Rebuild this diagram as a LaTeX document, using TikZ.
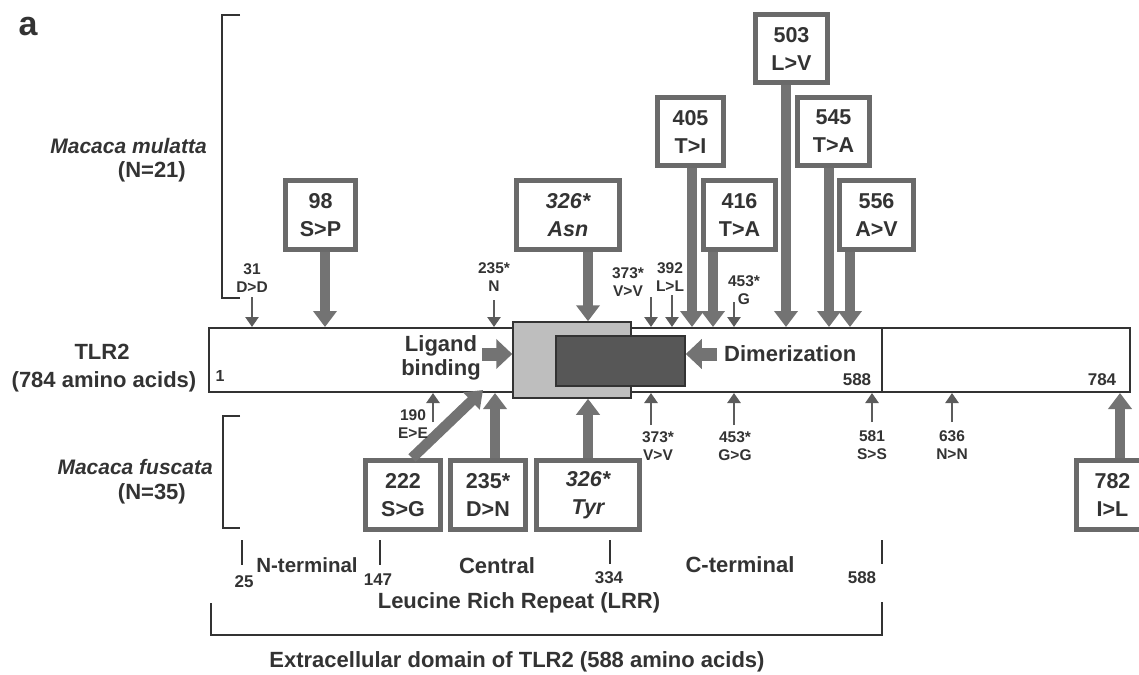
\documentclass[tikz,border=0pt]{standalone}
\usepackage{fontspec}
\setmainfont{Liberation Sans}
\usetikzlibrary{positioning,arrows.meta,calc}
\definecolor{ink}{HTML}{333333}
\definecolor{rim}{HTML}{6A6A6A}
\definecolor{shaft}{HTML}{737373}
\definecolor{lrr}{HTML}{BEBEBE}
\definecolor{dimer}{HTML}{575757}

\begin{document}
\begin{tikzpicture}[
    x=1pt, y=-1pt, text=ink,
    mutbox/.style={draw=rim, line width=5pt, fill=white, align=center,
                   inner sep=0pt, minimum height=69pt,
                   font=\bfseries\fontsize{21.5}{28}\selectfont},
    fat/.style={draw=shaft, line width=10.5pt, -{Triangle[length=16pt, width=23pt]}},
    snp/.style={draw=shaft!80!black, line width=2.8pt, -{Triangle[length=10pt, width=13pt]}},
    numtag/.style={font=\bfseries\fontsize{15.5}{18.5}\selectfont, align=center, inner sep=1pt},
    resnum/.style={font=\bfseries\fontsize{17}{20}\selectfont, inner sep=0pt},
    lab/.style={font=\bfseries\fontsize{22}{24}\selectfont, inner sep=0pt},
    species/.style={font=\bfseries\itshape\fontsize{21}{26}\selectfont, inner sep=0pt},
    domarrow/.style={draw=shaft, line width=13pt, -{Triangle[length=16pt, width=29pt]}},
    brk/.style={draw=ink, line width=2pt},
  ]
  \useasboundingbox (0,0) rectangle (1139,674);
  \clip (0,0) rectangle (1139,674);

  \node[font=\bfseries\fontsize{34}{34}\selectfont, inner sep=0pt] (panel) at (28,27) {a};

  % species brackets and names
  \draw[brk] (240,15) -- (222,15) -- (222,298) -- (240,298);
  \draw[brk] (240,416) -- (223,416) -- (223,528) -- (240,528);
  \node[species, anchor=east] (mul) at (207,146) {Macaca mulatta};
  \node[lab, anchor=east] (mulN) at (186,172) {(N=21)};
  \node[species, anchor=east] (fus) at (213,467) {Macaca fuscata};
  \node[lab, anchor=east] (fusN) at (186,494) {(N=35)};
  \node[lab] (tlrname) at (102,352) {TLR2};
  \node[lab] (tlrlen) at (104,382) {(784 amino acids)};

  % the protein bar
  \node[draw=ink, line width=2pt, minimum width=921pt, minimum height=64pt,
        inner sep=0pt] (tlr) at (669.5,360) {};
  \coordinate (d588) at (882,0);
  \draw[brk] (tlr.north -| d588) -- (tlr.south -| d588);
  \node[draw=ink, line width=1.5pt, fill=lrr, minimum width=118pt,
        minimum height=76pt, inner sep=0pt] (lrrbox) at (572,360) {};
  \node[draw=ink, line width=1.5pt, fill=dimer, minimum width=129pt,
        minimum height=50pt, inner sep=0pt] (dimbox) at (620.5,361) {};
  \node[font=\bfseries\fontsize{16}{18}\selectfont, inner sep=0pt] (r1) at (220,376) {1};
  \node[resnum] (r588) at (857,380) {588};
  \node[resnum] (r784) at (1102,380) {784};

  \node[lab, align=center] (lig) at (441,358) {Ligand\\binding};
  \node[lab, anchor=west] (dim) at (724,354) {Dimerization};
  \coordinate (ligtail) at (482,354);
  \draw[domarrow] (ligtail) -- (lrrbox.west |- ligtail);
  \draw[domarrow] ([xshift=-7pt]dim.west) -- (dimbox.east |- dim.west);

  % Macaca mulatta: non-synonymous changes
  \node[mutbox, minimum width=70pt] (m98) at (320.5,215) {98\\S>P};
  \node[mutbox, minimum width=103pt] (m326) at (568,215) {\itshape 326*\\\itshape Asn};
  \node[mutbox, minimum width=66pt, minimum height=68pt] (m405) at (690.5,131.5) {405\\T>I};
  \node[mutbox, minimum width=72pt, minimum height=68pt] (m503) at (791.5,48.5) {503\\L>V};
  \node[mutbox, minimum width=72pt, minimum height=68pt] (m545) at (833.5,131.5) {545\\T>A};
  \node[mutbox, minimum width=72pt] (m416) at (739.5,215) {416\\T>A};
  \node[mutbox, minimum width=74pt] (m556) at (876.5,215) {556\\A>V};
  \coordinate (x98) at (325,0);
  \coordinate (x326) at (588,0);
  \coordinate (x405) at (692,0);
  \coordinate (x416) at (713,0);
  \coordinate (x503) at (786,0);
  \coordinate (x545) at (829,0);
  \coordinate (x556) at (850,0);
  \draw[fat] (m98.south -| x98) -- (tlr.north -| x98);
  \draw[fat] (m326.south -| x326) -- (lrrbox.north -| x326);
  \draw[fat] (m405.south -| x405) -- (tlr.north -| x405);
  \draw[fat] (m416.south -| x416) -- (tlr.north -| x416);
  \draw[fat] (m503.south -| x503) -- (tlr.north -| x503);
  \draw[fat] (m545.south -| x545) -- (tlr.north -| x545);
  \draw[fat] (m556.south -| x556) -- (tlr.north -| x556);

  % Macaca mulatta: silent changes
  \node[numtag] (t31) at (252,278) {31\\D>D};
  \node[numtag] (t235) at (494,277) {235*\\N};
  \node[numtag] (t373) at (628,282) {373*\\V>V};
  \node[numtag] (t392) at (670,277) {392\\L>L};
  \node[numtag] (t453) at (744,290) {453*\\G};
  \coordinate (a31) at (252,297);
  \coordinate (a235) at (494,300);
  \coordinate (a373) at (651,297);
  \coordinate (a392) at (672,295);
  \coordinate (a453) at (734,302);
  \draw[snp] (a31) -- (a31 |- tlr.north);
  \draw[snp] (a235) -- (a235 |- tlr.north);
  \draw[snp] (a373) -- (a373 |- tlr.north);
  \draw[snp] (a392) -- (a392 |- tlr.north);
  \draw[snp] (a453) -- (a453 |- tlr.north);

  % Macaca fuscata: non-synonymous changes
  \node[mutbox, minimum width=75pt] (f222) at (403,495) {222\\S>G};
  \node[mutbox, minimum width=75pt] (f235) at (488,495) {235*\\D>N};
  \node[mutbox, minimum width=103pt] (f326) at (588,495) {\itshape 326*\\\itshape Tyr};
  \node[mutbox, minimum width=72pt] (f782) at (1112.5,495) {782\\I>L};
  \coordinate (s222) at (412,0);
  \coordinate (ligfoot) at (483,390);
  \coordinate (y235) at (495,0);
  \coordinate (y326) at (588,0);
  \coordinate (y782) at (1120,0);
  \draw[fat] (f222.north -| s222) -- (ligfoot);
  \draw[fat] (f235.north -| y235) -- (tlr.south -| y235);
  \draw[fat] (f326.north -| y326) -- (lrrbox.south -| y326);
  \draw[fat] (f782.north -| y782) -- (tlr.south -| y782);

  % Macaca fuscata: silent changes
  \node[numtag] (u190) at (413,424) {190\\E>E};
  \node[numtag] (u373) at (658,446) {373*\\V>V};
  \node[numtag] (u453) at (735,446) {453*\\G>G};
  \node[numtag] (u581) at (872,445) {581\\S>S};
  \node[numtag] (u636) at (952,445) {636\\N>N};
  \coordinate (b190) at (433,422);
  \coordinate (b373) at (651,425);
  \coordinate (b453) at (734,425);
  \coordinate (b581) at (872,422);
  \coordinate (b636) at (952,422);
  \draw[snp] (b190) -- (b190 |- tlr.south);
  \draw[snp] (b373) -- (b373 |- tlr.south);
  \draw[snp] (b453) -- (b453 |- tlr.south);
  \draw[snp] (b581) -- (b581 |- tlr.south);
  \draw[snp] (b636) -- (b636 |- tlr.south);

  % LRR regions and extracellular domain
  \draw[brk] (242,540) -- (242,565);
  \draw[brk] (380,540) -- (380,565);
  \draw[brk] (610,540) -- (610,564);
  \draw[brk] (882,540) -- (882,564);
  \node[resnum] (n25) at (244,582) {25};
  \node[lab, font=\bfseries\fontsize{20.5}{20}\selectfont] (nterm) at (307,565) {N-terminal};
  \node[resnum] (n147) at (378,580) {147};
  \node[lab] (central) at (497,566) {Central};
  \node[resnum] (n334) at (609,578) {334};
  \node[lab] (cterm) at (740,565) {C-terminal};
  \node[resnum] (n588) at (862,578) {588};
  \node[lab] (lrrname) at (519,603) {Leucine Rich Repeat (LRR)};
  \draw[brk] (211,603) -- (211,635) -- (882,635) -- (882,602);
  \node[lab] (ecd) at (517,662) {Extracellular domain of TLR2 (588 amino acids)};
\end{tikzpicture}
\end{document}
